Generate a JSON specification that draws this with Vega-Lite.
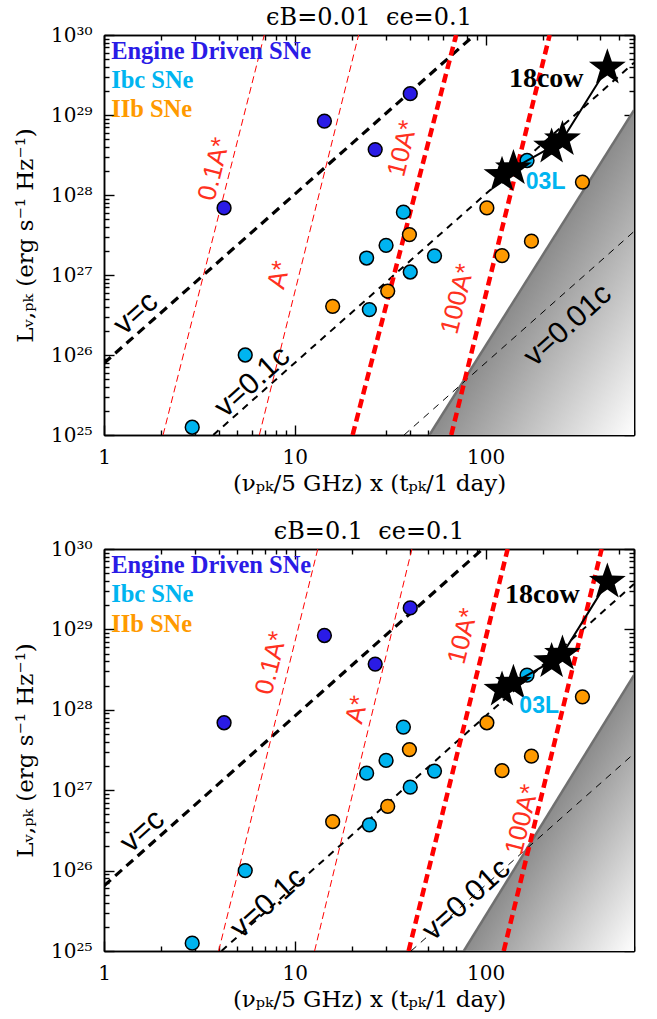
{
  "$schema": "https://vega.github.io/schema/vega-lite/v6.json",
  "padding": {"left": 14, "top": 6, "right": 15, "bottom": 5},
  "spacing": 25,
  "config": {
    "view": {"stroke": null},
    "axis": {"grid": false, "domainColor": "black", "domainWidth": 1.5, "tickColor": "black", "tickWidth": 1.4, "labelFont": "DejaVu Serif", "labelFontSize": 20, "labelColor": "black", "titleFont": "DejaVu Serif", "titleFontSize": 23, "titleFontWeight": "normal", "titleColor": "black", "labelOverlap": false, "labelFlush": false, "zindex": 1},
    "title": {"font": "DejaVu Serif", "fontSize": 24, "fontWeight": "normal", "color": "black", "offset": -5}
  },
  "datasets": {
    "pts": [
      {"cls": "Engine Driven SNe", "x": 4.26, "L": 6.9e27},
      {"cls": "Engine Driven SNe", "x": 14.3, "L": 8.4e28},
      {"cls": "Engine Driven SNe", "x": 40.3, "L": 1.85e29},
      {"cls": "Engine Driven SNe", "x": 26.4, "L": 3.7e28},
      {"cls": "Ibc SNe", "x": 165, "L": 2.7e28},
      {"cls": "IIb SNe", "x": 322, "L": 1.45e28},
      {"cls": "IIb SNe", "x": 101.6, "L": 6.9e27},
      {"cls": "Ibc SNe", "x": 37.1, "L": 6.1e27},
      {"cls": "IIb SNe", "x": 39.9, "L": 3.2e27},
      {"cls": "IIb SNe", "x": 174, "L": 2.65e27},
      {"cls": "Ibc SNe", "x": 30.1, "L": 2.35e27},
      {"cls": "Ibc SNe", "x": 23.8, "L": 1.63e27},
      {"cls": "Ibc SNe", "x": 54.0, "L": 1.73e27},
      {"cls": "Ibc SNe", "x": 40.3, "L": 1.09e27},
      {"cls": "IIb SNe", "x": 30.7, "L": 6.3e26},
      {"cls": "IIb SNe", "x": 15.8, "L": 4.06e26},
      {"cls": "Ibc SNe", "x": 24.6, "L": 3.7e26},
      {"cls": "IIb SNe", "x": 122, "L": 1.75e27},
      {"cls": "Ibc SNe", "x": 5.5, "L": 1.0e26},
      {"cls": "Ibc SNe", "x": 2.9, "L": 1.25e25}
    ],
    "cow": [
      {"x": 122, "L": 1.77e28},
      {"x": 140, "L": 2.15e28},
      {"x": 222, "L": 4.0e28},
      {"x": 253, "L": 4.95e28},
      {"x": 435, "L": 3.9e29}
    ],
    "leg": [
      {"cls": "Engine Driven SNe", "x": 1.09, "L": 6.2e29},
      {"cls": "Ibc SNe", "x": 1.09, "L": 2.66e29},
      {"cls": "IIb SNe", "x": 1.09, "L": 1.15e29}
    ],
    "lines": [
      {"p": "a", "k": "v=c", "x": 1, "L": 7.9e25},
      {"p": "a", "k": "v=c", "x": 87.5, "L": 1e30},
      {"p": "a", "k": "v=0.1c", "x": 3.74, "L": 1e25},
      {"p": "a", "k": "v=0.1c", "x": 600, "L": 4.5e29},
      {"p": "a", "k": "v=0.01c", "x": 37.4, "L": 1e25},
      {"p": "a", "k": "v=0.01c", "x": 600, "L": 3.5e27},
      {"p": "a", "k": "0.1A*", "x": 2.04, "L": 1e25},
      {"p": "a", "k": "0.1A*", "x": 6.92, "L": 1e30},
      {"p": "a", "k": "A*", "x": 6.52, "L": 1e25},
      {"p": "a", "k": "A*", "x": 21.6, "L": 1e30},
      {"p": "a", "k": "10A*", "x": 20.1, "L": 1e25},
      {"p": "a", "k": "10A*", "x": 70.1, "L": 1e30},
      {"p": "a", "k": "100A*", "x": 66.1, "L": 1e25},
      {"p": "a", "k": "100A*", "x": 216.8, "L": 1e30},
      {"p": "a", "k": "edge", "x": 50.8, "L": 1e25},
      {"p": "a", "k": "edge", "x": 600, "L": 1.15e29},
      {"p": "b", "k": "v=c", "x": 1, "L": 6.46e25},
      {"p": "b", "k": "v=c", "x": 96.6, "L": 1e30},
      {"p": "b", "k": "v=0.1c", "x": 4.13, "L": 1e25},
      {"p": "b", "k": "v=0.1c", "x": 600, "L": 3.67e29},
      {"p": "b", "k": "v=0.01c", "x": 40.7, "L": 1e25},
      {"p": "b", "k": "v=0.01c", "x": 600, "L": 2.85e27},
      {"p": "b", "k": "0.1A*", "x": 3.99, "L": 1e25},
      {"p": "b", "k": "0.1A*", "x": 13.2, "L": 1e30},
      {"p": "b", "k": "A*", "x": 12.7, "L": 1e25},
      {"p": "b", "k": "A*", "x": 41.1, "L": 1e30},
      {"p": "b", "k": "10A*", "x": 39.5, "L": 1e25},
      {"p": "b", "k": "10A*", "x": 130.6, "L": 1e30},
      {"p": "b", "k": "100A*", "x": 124.5, "L": 1e25},
      {"p": "b", "k": "100A*", "x": 406, "L": 1e30},
      {"p": "b", "k": "edge", "x": 76.9, "L": 1e25},
      {"p": "b", "k": "edge", "x": 600, "L": 2.7e28}
    ],
    "txt": [
      {"p": "a", "g": "red", "t": "0.1A*", "x": 3.78, "L": 2.1e28},
      {"p": "a", "g": "red", "t": "A*", "x": 8.3, "L": 1.0e27},
      {"p": "a", "g": "red", "t": "10A*", "x": 36.8, "L": 3.8e28},
      {"p": "a", "g": "red", "t": "100A*", "x": 71.6, "L": 5.0e26},
      {"p": "a", "g": "v", "t": "v=c", "x": 1.47, "L": 3.3e26},
      {"p": "a", "g": "v", "t": "v=0.1c", "x": 6.0, "L": 4.6e25},
      {"p": "a", "g": "v", "t": "v=0.01c", "x": 270, "L": 2.35e26},
      {"p": "a", "g": "cow", "t": "18cow", "x": 208, "L": 2.8e29},
      {"p": "a", "g": "03L", "t": "03L", "x": 206.5, "L": 1.45e28},
      {"p": "b", "g": "red", "t": "0.1A*", "x": 7.55, "L": 3.8e28},
      {"p": "b", "g": "red", "t": "A*", "x": 21.3, "L": 1.0e28},
      {"p": "b", "g": "red", "t": "10A*", "x": 76.2, "L": 8.2e28},
      {"p": "b", "g": "red", "t": "100A*", "x": 156, "L": 4.3e26},
      {"p": "b", "g": "v", "t": "v=c", "x": 1.59, "L": 3.1e26},
      {"p": "b", "g": "v", "t": "v=0.1c", "x": 7.26, "L": 3.95e25},
      {"p": "b", "g": "v", "t": "v=0.01c", "x": 79.4, "L": 4.35e25},
      {"p": "b", "g": "cow", "t": "18cow", "x": 198.6, "L": 2.7e29},
      {"p": "b", "g": "03L", "t": "03L", "x": 191, "L": 1.1e28}
    ]
  },
  "vconcat": [
    {
      "title": {"text": "ϵB=0.01\u00a0\u00a0ϵe=0.1", "fontSize": 24, "font": "DejaVu Serif", "fontWeight": "normal", "offset": -5},
      "width": 530, "height": 400,
      "resolve": {"axis": {"x": "independent", "y": "independent"}},
      "layer": [
        {"data": {"name": "lines"}, "transform": [{"filter": "datum.p == 'a' && datum.k == 'edge'"}],
         "mark": {"type": "area", "orient": "vertical", "clip": true, "color": {"gradient": "linear", "x1": 0, "y1": 0, "x2": 1, "y2": 1, "stops": [{"offset": 0.5, "color": "#8c8c8c"}, {"offset": 1, "color": "#fefefe"}]}},
         "encoding": {
           "x": {"field": "x", "type": "quantitative", "scale": {"type": "log", "domain": [1, 600], "nice": false},
                 "axis": {"orient": "bottom", "title": "(νₚₖ/5 GHz) x (tₚₖ/1 day)", "values": [1, 10, 100], "labelExpr": "format(datum.value, 'd')", "tickSize": -10, "labelPadding": 22, "titlePadding": 5}},
           "y": {"field": "L", "type": "quantitative", "scale": {"type": "log", "domain": [1e25, 1e30], "nice": false},
                 "axis": {"orient": "left", "title": "Lᵥ,ₚₖ (erg s⁻¹ Hz⁻¹)", "values": [1e25, 1e26, 1e27, 1e28, 1e29, 1e30],
                          "labelExpr": "'10' + ['²⁵','²⁶','²⁷','²⁸','²⁹','³⁰'][round(log(datum.value)/LN10) - 25]", "tickSize": -10, "labelPadding": 22, "titlePadding": 13}},
           "y2": {"datum": 1e25}
         }},
        {"data": {"name": "lines"}, "transform": [{"filter": "datum.p == 'a' && datum.k == 'edge'"}],
         "mark": {"type": "line", "color": "#707070", "strokeWidth": 2.5, "clip": true},
         "encoding": {
           "x": {"field": "x", "type": "quantitative", "scale": {"type": "log", "domain": [1, 600], "nice": false},
                 "axis": {"orient": "top", "title": null, "labels": false, "values": [1, 10, 100], "tickSize": -10}},
           "y": {"field": "L", "type": "quantitative", "scale": {"type": "log", "domain": [1e25, 1e30], "nice": false},
                 "axis": {"orient": "right", "title": null, "labels": false, "values": [1e25, 1e26, 1e27, 1e28, 1e29, 1e30], "tickSize": -10}}
         }},
        {"data": {"name": "lines"}, "transform": [{"filter": "datum.p == 'a' && datum.k == 'v=c'"}],
         "mark": {"type": "line", "color": "black", "strokeWidth": 3.2, "strokeDash": [9, 6], "clip": true},
         "encoding": {
           "x": {"field": "x", "type": "quantitative", "scale": {"type": "log", "domain": [1, 600], "nice": false},
                 "axis": {"orient": "bottom", "title": null, "labels": false, "values": [2,3,4,5,6,7,8,9,20,30,40,50,60,70,80,90,200,300,400,500,600], "tickSize": -5}},
           "y": {"field": "L", "type": "quantitative", "scale": {"type": "log", "domain": [1e25, 1e30], "nice": false},
                 "axis": {"orient": "left", "title": null, "labels": false, "values": [2e25,3e25,4e25,5e25,6e25,7e25,8e25,9e25,2e26,3e26,4e26,5e26,6e26,7e26,8e26,9e26,2e27,3e27,4e27,5e27,6e27,7e27,8e27,9e27,2e28,3e28,4e28,5e28,6e28,7e28,8e28,9e28,2e29,3e29,4e29,5e29,6e29,7e29,8e29,9e29], "tickSize": -5}}
         }},
        {"data": {"name": "lines"}, "transform": [{"filter": "datum.p == 'a' && datum.k == 'v=0.1c'"}],
         "mark": {"type": "line", "color": "black", "strokeWidth": 2, "strokeDash": [7, 6], "clip": true},
         "encoding": {
           "x": {"field": "x", "type": "quantitative", "scale": {"type": "log", "domain": [1, 600], "nice": false},
                 "axis": {"orient": "top", "title": null, "labels": false, "values": [2,3,4,5,6,7,8,9,20,30,40,50,60,70,80,90,200,300,400,500,600], "tickSize": -5}},
           "y": {"field": "L", "type": "quantitative", "scale": {"type": "log", "domain": [1e25, 1e30], "nice": false},
                 "axis": {"orient": "right", "title": null, "labels": false, "values": [2e25,3e25,4e25,5e25,6e25,7e25,8e25,9e25,2e26,3e26,4e26,5e26,6e26,7e26,8e26,9e26,2e27,3e27,4e27,5e27,6e27,7e27,8e27,9e27,2e28,3e28,4e28,5e28,6e28,7e28,8e28,9e28,2e29,3e29,4e29,5e29,6e29,7e29,8e29,9e29], "tickSize": -5}}
         }},
        {"data": {"name": "lines"}, "transform": [{"filter": "datum.p == 'a' && datum.k == 'v=0.01c'"}],
         "mark": {"type": "line", "color": "black", "strokeWidth": 1, "strokeDash": [7, 6], "clip": true},
         "encoding": {"x": {"field": "x", "type": "quantitative", "scale": {"type": "log", "domain": [1, 600], "nice": false}, "axis": null},
                      "y": {"field": "L", "type": "quantitative", "scale": {"type": "log", "domain": [1e25, 1e30], "nice": false}, "axis": null}}},
        {"data": {"name": "lines"}, "transform": [{"filter": "datum.p == 'a' && (datum.k == '0.1A*' || datum.k == 'A*')"}],
         "mark": {"type": "line", "color": "#ff0000", "strokeWidth": 1, "strokeDash": [7, 4], "clip": true},
         "encoding": {"x": {"field": "x", "type": "quantitative", "scale": {"type": "log", "domain": [1, 600], "nice": false}, "axis": null},
                      "y": {"field": "L", "type": "quantitative", "scale": {"type": "log", "domain": [1e25, 1e30], "nice": false}, "axis": null},
                      "detail": {"field": "k"}}},
        {"data": {"name": "lines"}, "transform": [{"filter": "datum.p == 'a' && (datum.k == '10A*' || datum.k == '100A*')"}],
         "mark": {"type": "line", "color": "#ff0000", "strokeWidth": 4.5, "strokeDash": [9, 5], "clip": true},
         "encoding": {"x": {"field": "x", "type": "quantitative", "scale": {"type": "log", "domain": [1, 600], "nice": false}, "axis": null},
                      "y": {"field": "L", "type": "quantitative", "scale": {"type": "log", "domain": [1e25, 1e30], "nice": false}, "axis": null},
                      "detail": {"field": "k"}}},
        {"data": {"name": "pts"},
         "mark": {"type": "point", "shape": "circle", "filled": true, "size": 190, "stroke": "black", "strokeWidth": 1.5, "opacity": 1},
         "encoding": {"x": {"field": "x", "type": "quantitative", "scale": {"type": "log", "domain": [1, 600], "nice": false}, "axis": null},
                      "y": {"field": "L", "type": "quantitative", "scale": {"type": "log", "domain": [1e25, 1e30], "nice": false}, "axis": null},
                      "fill": {"field": "cls", "type": "nominal", "scale": {"domain": ["Engine Driven SNe", "Ibc SNe", "IIb SNe"], "range": ["#2a1be6", "#00b4f0", "#ff9a00"]}, "legend": null}}},
        {"data": {"name": "cow"},
         "mark": {"type": "line", "color": "black", "strokeWidth": 2},
         "encoding": {"x": {"field": "x", "type": "quantitative", "scale": {"type": "log", "domain": [1, 600], "nice": false}, "axis": null},
                      "y": {"field": "L", "type": "quantitative", "scale": {"type": "log", "domain": [1e25, 1e30], "nice": false}, "axis": null}}},
        {"data": {"name": "cow"},
         "mark": {"type": "point", "shape": "M0,-1L0.235,-0.324L0.951,-0.309L0.38,0.124L0.588,0.809L0,0.4L-0.588,0.809L-0.38,0.124L-0.951,-0.309L-0.235,-0.324Z", "filled": true, "size": 1500, "color": "black", "opacity": 1},
         "encoding": {"x": {"field": "x", "type": "quantitative", "scale": {"type": "log", "domain": [1, 600], "nice": false}, "axis": null},
                      "y": {"field": "L", "type": "quantitative", "scale": {"type": "log", "domain": [1e25, 1e30], "nice": false}, "axis": null}}},
        {"data": {"name": "leg"},
         "mark": {"type": "text", "align": "left", "baseline": "middle", "font": "Liberation Serif", "fontWeight": "bold", "fontSize": 24.5},
         "encoding": {"x": {"field": "x", "type": "quantitative", "scale": {"type": "log", "domain": [1, 600], "nice": false}, "axis": null},
                      "y": {"field": "L", "type": "quantitative", "scale": {"type": "log", "domain": [1e25, 1e30], "nice": false}, "axis": null},
                      "text": {"field": "cls"},
                      "fill": {"field": "cls", "type": "nominal", "scale": {"domain": ["Engine Driven SNe", "Ibc SNe", "IIb SNe"], "range": ["#2a1be6", "#00b4f0", "#ff9a00"]}, "legend": null}}},
        {"data": {"name": "txt"}, "transform": [{"filter": "datum.p == 'a' && datum.g == 'red'"}],
         "mark": {"type": "text", "align": "center", "baseline": "middle", "font": "Liberation Sans", "fontSize": 26, "angle": -76, "color": "#ff3020"},
         "encoding": {"x": {"field": "x", "type": "quantitative", "scale": {"type": "log", "domain": [1, 600], "nice": false}, "axis": null},
                      "y": {"field": "L", "type": "quantitative", "scale": {"type": "log", "domain": [1e25, 1e30], "nice": false}, "axis": null},
                      "text": {"field": "t"}}},
        {"data": {"name": "txt"}, "transform": [{"filter": "datum.p == 'a' && datum.g == 'v'"}],
         "mark": {"type": "text", "align": "center", "baseline": "middle", "font": "Liberation Sans", "fontSize": 30, "angle": -42, "color": "black"},
         "encoding": {"x": {"field": "x", "type": "quantitative", "scale": {"type": "log", "domain": [1, 600], "nice": false}, "axis": null},
                      "y": {"field": "L", "type": "quantitative", "scale": {"type": "log", "domain": [1e25, 1e30], "nice": false}, "axis": null},
                      "text": {"field": "t"}}},
        {"data": {"name": "txt"}, "transform": [{"filter": "datum.p == 'a' && datum.g == 'cow'"}],
         "mark": {"type": "text", "align": "center", "baseline": "middle", "font": "Liberation Serif", "fontWeight": "bold", "fontSize": 28, "color": "black"},
         "encoding": {"x": {"field": "x", "type": "quantitative", "scale": {"type": "log", "domain": [1, 600], "nice": false}, "axis": null},
                      "y": {"field": "L", "type": "quantitative", "scale": {"type": "log", "domain": [1e25, 1e30], "nice": false}, "axis": null},
                      "text": {"field": "t"}}},
        {"data": {"name": "txt"}, "transform": [{"filter": "datum.p == 'a' && datum.g == '03L'"}],
         "mark": {"type": "text", "align": "center", "baseline": "middle", "font": "Liberation Sans", "fontWeight": "bold", "fontSize": 23, "color": "#00b4f0"},
         "encoding": {"x": {"field": "x", "type": "quantitative", "scale": {"type": "log", "domain": [1, 600], "nice": false}, "axis": null},
                      "y": {"field": "L", "type": "quantitative", "scale": {"type": "log", "domain": [1e25, 1e30], "nice": false}, "axis": null},
                      "text": {"field": "t"}}}
      ]
    },
    {
      "title": {"text": "ϵB=0.1\u00a0\u00a0ϵe=0.1", "fontSize": 24, "font": "DejaVu Serif", "fontWeight": "normal", "offset": -5},
      "width": 530, "height": 402,
      "resolve": {"axis": {"x": "independent", "y": "independent"}},
      "layer": [
        {"data": {"name": "lines"}, "transform": [{"filter": "datum.p == 'b' && datum.k == 'edge'"}],
         "mark": {"type": "area", "orient": "vertical", "clip": true, "color": {"gradient": "linear", "x1": 0, "y1": 0, "x2": 1, "y2": 1, "stops": [{"offset": 0.5, "color": "#8c8c8c"}, {"offset": 1, "color": "#fefefe"}]}},
         "encoding": {
           "x": {"field": "x", "type": "quantitative", "scale": {"type": "log", "domain": [1, 600], "nice": false},
                 "axis": {"orient": "bottom", "title": "(νₚₖ/5 GHz) x (tₚₖ/1 day)", "values": [1, 10, 100], "labelExpr": "format(datum.value, 'd')", "tickSize": -10, "labelPadding": 22, "titlePadding": 5}},
           "y": {"field": "L", "type": "quantitative", "scale": {"type": "log", "domain": [1e25, 1e30], "nice": false},
                 "axis": {"orient": "left", "title": "Lᵥ,ₚₖ (erg s⁻¹ Hz⁻¹)", "values": [1e25, 1e26, 1e27, 1e28, 1e29, 1e30],
                          "labelExpr": "'10' + ['²⁵','²⁶','²⁷','²⁸','²⁹','³⁰'][round(log(datum.value)/LN10) - 25]", "tickSize": -10, "labelPadding": 22, "titlePadding": 13}},
           "y2": {"datum": 1e25}
         }},
        {"data": {"name": "lines"}, "transform": [{"filter": "datum.p == 'b' && datum.k == 'edge'"}],
         "mark": {"type": "line", "color": "#707070", "strokeWidth": 2.5, "clip": true},
         "encoding": {
           "x": {"field": "x", "type": "quantitative", "scale": {"type": "log", "domain": [1, 600], "nice": false},
                 "axis": {"orient": "top", "title": null, "labels": false, "values": [1, 10, 100], "tickSize": -10}},
           "y": {"field": "L", "type": "quantitative", "scale": {"type": "log", "domain": [1e25, 1e30], "nice": false},
                 "axis": {"orient": "right", "title": null, "labels": false, "values": [1e25, 1e26, 1e27, 1e28, 1e29, 1e30], "tickSize": -10}}
         }},
        {"data": {"name": "lines"}, "transform": [{"filter": "datum.p == 'b' && datum.k == 'v=c'"}],
         "mark": {"type": "line", "color": "black", "strokeWidth": 3.2, "strokeDash": [9, 6], "clip": true},
         "encoding": {
           "x": {"field": "x", "type": "quantitative", "scale": {"type": "log", "domain": [1, 600], "nice": false},
                 "axis": {"orient": "bottom", "title": null, "labels": false, "values": [2,3,4,5,6,7,8,9,20,30,40,50,60,70,80,90,200,300,400,500,600], "tickSize": -5}},
           "y": {"field": "L", "type": "quantitative", "scale": {"type": "log", "domain": [1e25, 1e30], "nice": false},
                 "axis": {"orient": "left", "title": null, "labels": false, "values": [2e25,3e25,4e25,5e25,6e25,7e25,8e25,9e25,2e26,3e26,4e26,5e26,6e26,7e26,8e26,9e26,2e27,3e27,4e27,5e27,6e27,7e27,8e27,9e27,2e28,3e28,4e28,5e28,6e28,7e28,8e28,9e28,2e29,3e29,4e29,5e29,6e29,7e29,8e29,9e29], "tickSize": -5}}
         }},
        {"data": {"name": "lines"}, "transform": [{"filter": "datum.p == 'b' && datum.k == 'v=0.1c'"}],
         "mark": {"type": "line", "color": "black", "strokeWidth": 2, "strokeDash": [7, 6], "clip": true},
         "encoding": {
           "x": {"field": "x", "type": "quantitative", "scale": {"type": "log", "domain": [1, 600], "nice": false},
                 "axis": {"orient": "top", "title": null, "labels": false, "values": [2,3,4,5,6,7,8,9,20,30,40,50,60,70,80,90,200,300,400,500,600], "tickSize": -5}},
           "y": {"field": "L", "type": "quantitative", "scale": {"type": "log", "domain": [1e25, 1e30], "nice": false},
                 "axis": {"orient": "right", "title": null, "labels": false, "values": [2e25,3e25,4e25,5e25,6e25,7e25,8e25,9e25,2e26,3e26,4e26,5e26,6e26,7e26,8e26,9e26,2e27,3e27,4e27,5e27,6e27,7e27,8e27,9e27,2e28,3e28,4e28,5e28,6e28,7e28,8e28,9e28,2e29,3e29,4e29,5e29,6e29,7e29,8e29,9e29], "tickSize": -5}}
         }},
        {"data": {"name": "lines"}, "transform": [{"filter": "datum.p == 'b' && datum.k == 'v=0.01c'"}],
         "mark": {"type": "line", "color": "black", "strokeWidth": 1, "strokeDash": [7, 6], "clip": true},
         "encoding": {"x": {"field": "x", "type": "quantitative", "scale": {"type": "log", "domain": [1, 600], "nice": false}, "axis": null},
                      "y": {"field": "L", "type": "quantitative", "scale": {"type": "log", "domain": [1e25, 1e30], "nice": false}, "axis": null}}},
        {"data": {"name": "lines"}, "transform": [{"filter": "datum.p == 'b' && (datum.k == '0.1A*' || datum.k == 'A*')"}],
         "mark": {"type": "line", "color": "#ff0000", "strokeWidth": 1, "strokeDash": [7, 4], "clip": true},
         "encoding": {"x": {"field": "x", "type": "quantitative", "scale": {"type": "log", "domain": [1, 600], "nice": false}, "axis": null},
                      "y": {"field": "L", "type": "quantitative", "scale": {"type": "log", "domain": [1e25, 1e30], "nice": false}, "axis": null},
                      "detail": {"field": "k"}}},
        {"data": {"name": "lines"}, "transform": [{"filter": "datum.p == 'b' && (datum.k == '10A*' || datum.k == '100A*')"}],
         "mark": {"type": "line", "color": "#ff0000", "strokeWidth": 4.5, "strokeDash": [9, 5], "clip": true},
         "encoding": {"x": {"field": "x", "type": "quantitative", "scale": {"type": "log", "domain": [1, 600], "nice": false}, "axis": null},
                      "y": {"field": "L", "type": "quantitative", "scale": {"type": "log", "domain": [1e25, 1e30], "nice": false}, "axis": null},
                      "detail": {"field": "k"}}},
        {"data": {"name": "pts"},
         "mark": {"type": "point", "shape": "circle", "filled": true, "size": 190, "stroke": "black", "strokeWidth": 1.5, "opacity": 1},
         "encoding": {"x": {"field": "x", "type": "quantitative", "scale": {"type": "log", "domain": [1, 600], "nice": false}, "axis": null},
                      "y": {"field": "L", "type": "quantitative", "scale": {"type": "log", "domain": [1e25, 1e30], "nice": false}, "axis": null},
                      "fill": {"field": "cls", "type": "nominal", "scale": {"domain": ["Engine Driven SNe", "Ibc SNe", "IIb SNe"], "range": ["#2a1be6", "#00b4f0", "#ff9a00"]}, "legend": null}}},
        {"data": {"name": "cow"},
         "mark": {"type": "line", "color": "black", "strokeWidth": 2},
         "encoding": {"x": {"field": "x", "type": "quantitative", "scale": {"type": "log", "domain": [1, 600], "nice": false}, "axis": null},
                      "y": {"field": "L", "type": "quantitative", "scale": {"type": "log", "domain": [1e25, 1e30], "nice": false}, "axis": null}}},
        {"data": {"name": "cow"},
         "mark": {"type": "point", "shape": "M0,-1L0.235,-0.324L0.951,-0.309L0.38,0.124L0.588,0.809L0,0.4L-0.588,0.809L-0.38,0.124L-0.951,-0.309L-0.235,-0.324Z", "filled": true, "size": 1500, "color": "black", "opacity": 1},
         "encoding": {"x": {"field": "x", "type": "quantitative", "scale": {"type": "log", "domain": [1, 600], "nice": false}, "axis": null},
                      "y": {"field": "L", "type": "quantitative", "scale": {"type": "log", "domain": [1e25, 1e30], "nice": false}, "axis": null}}},
        {"data": {"name": "leg"},
         "mark": {"type": "text", "align": "left", "baseline": "middle", "font": "Liberation Serif", "fontWeight": "bold", "fontSize": 24.5},
         "encoding": {"x": {"field": "x", "type": "quantitative", "scale": {"type": "log", "domain": [1, 600], "nice": false}, "axis": null},
                      "y": {"field": "L", "type": "quantitative", "scale": {"type": "log", "domain": [1e25, 1e30], "nice": false}, "axis": null},
                      "text": {"field": "cls"},
                      "fill": {"field": "cls", "type": "nominal", "scale": {"domain": ["Engine Driven SNe", "Ibc SNe", "IIb SNe"], "range": ["#2a1be6", "#00b4f0", "#ff9a00"]}, "legend": null}}},
        {"data": {"name": "txt"}, "transform": [{"filter": "datum.p == 'b' && datum.g == 'red'"}],
         "mark": {"type": "text", "align": "center", "baseline": "middle", "font": "Liberation Sans", "fontSize": 26, "angle": -76, "color": "#ff3020"},
         "encoding": {"x": {"field": "x", "type": "quantitative", "scale": {"type": "log", "domain": [1, 600], "nice": false}, "axis": null},
                      "y": {"field": "L", "type": "quantitative", "scale": {"type": "log", "domain": [1e25, 1e30], "nice": false}, "axis": null},
                      "text": {"field": "t"}}},
        {"data": {"name": "txt"}, "transform": [{"filter": "datum.p == 'b' && datum.g == 'v'"}],
         "mark": {"type": "text", "align": "center", "baseline": "middle", "font": "Liberation Sans", "fontSize": 30, "angle": -42, "color": "black"},
         "encoding": {"x": {"field": "x", "type": "quantitative", "scale": {"type": "log", "domain": [1, 600], "nice": false}, "axis": null},
                      "y": {"field": "L", "type": "quantitative", "scale": {"type": "log", "domain": [1e25, 1e30], "nice": false}, "axis": null},
                      "text": {"field": "t"}}},
        {"data": {"name": "txt"}, "transform": [{"filter": "datum.p == 'b' && datum.g == 'cow'"}],
         "mark": {"type": "text", "align": "center", "baseline": "middle", "font": "Liberation Serif", "fontWeight": "bold", "fontSize": 28, "color": "black"},
         "encoding": {"x": {"field": "x", "type": "quantitative", "scale": {"type": "log", "domain": [1, 600], "nice": false}, "axis": null},
                      "y": {"field": "L", "type": "quantitative", "scale": {"type": "log", "domain": [1e25, 1e30], "nice": false}, "axis": null},
                      "text": {"field": "t"}}},
        {"data": {"name": "txt"}, "transform": [{"filter": "datum.p == 'b' && datum.g == '03L'"}],
         "mark": {"type": "text", "align": "center", "baseline": "middle", "font": "Liberation Sans", "fontWeight": "bold", "fontSize": 23, "color": "#00b4f0"},
         "encoding": {"x": {"field": "x", "type": "quantitative", "scale": {"type": "log", "domain": [1, 600], "nice": false}, "axis": null},
                      "y": {"field": "L", "type": "quantitative", "scale": {"type": "log", "domain": [1e25, 1e30], "nice": false}, "axis": null},
                      "text": {"field": "t"}}}
      ]
    }
  ]
}
